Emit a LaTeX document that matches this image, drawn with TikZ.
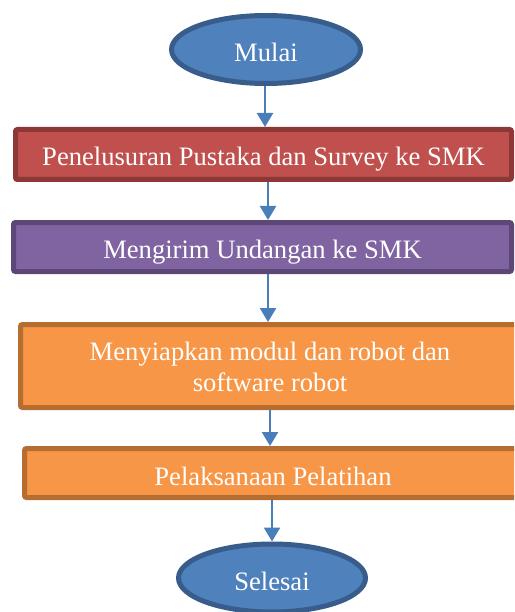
\documentclass[tikz,border=0pt]{standalone}
\usepackage{fontspec}
\setmainfont{Liberation Serif}
\usetikzlibrary{shapes.geometric,arrows.meta}
\definecolor{bfill}{HTML}{4F81BD}
\definecolor{bline}{HTML}{385D8A}
\definecolor{rfill}{HTML}{C0504D}
\definecolor{rline}{HTML}{8C3836}
\definecolor{pfill}{HTML}{8064A2}
\definecolor{pline}{HTML}{5C4776}
\definecolor{ofill}{HTML}{F79646}
\definecolor{oline}{HTML}{B66D31}
\definecolor{arr}{HTML}{4A7EBB}
\begin{document}
\begin{tikzpicture}[x=1pt,y=-1pt,
  every node/.style={font=\fontsize{26.6}{31}\selectfont, text=white, inner sep=0pt},
  term/.style={ellipse, draw=bline, fill=bfill, line width=5pt,
    minimum width=189pt, minimum height=68pt, text height=25pt, text depth=0pt},
  procbox/.style={rectangle, rounded corners=2pt, line width=5pt,
    text height=22pt, text depth=0pt},
  conn/.style={draw=arr, line width=2.5pt, -{Triangle[width=16pt,length=14pt]}}]
\useasboundingbox (0,0) rectangle (514,612);
\clip (0,0) rectangle (514,612);
\node[term] (mulai) at (266,49.5) {Mulai};
\node[procbox, draw=rline, fill=rfill, minimum width=496pt, minimum height=50pt] (survey) at (263.5,154.5) {Penelusuran Pustaka dan Survey ke SMK};
\node[procbox, draw=pline, fill=pfill, minimum width=498pt, minimum height=49pt] (undangan) at (262.5,247) {Mengirim Undangan ke SMK};
\node[procbox, draw=oline, fill=ofill, minimum width=499pt, minimum height=83pt, align=center, text height=50pt] (modul) at (270,366) {Menyiapkan modul dan robot dan\\software robot};
\node[procbox, draw=oline, fill=ofill, minimum width=497pt, minimum height=49pt, text height=24pt] (latih) at (273,473) {Pelaksanaan Pelatihan};
\node[term, minimum width=187pt] (selesai) at (272,578) {Selesai};
\draw[conn] ([xshift=-1pt]mulai.south) -- ([xshift=-1pt]mulai.south |- survey.north);
\draw[conn] ([xshift=4.5pt]survey.south) -- ([xshift=4.5pt]survey.south |- undangan.north);
\draw[conn] ([xshift=5.5pt]undangan.south) -- ([xshift=5.5pt]undangan.south |- modul.north);
\draw[conn] (modul.south) -- (modul.south |- latih.north);
\draw[conn] (selesai.north |- latih.south) -- (selesai.north);
\end{tikzpicture}
\end{document}
